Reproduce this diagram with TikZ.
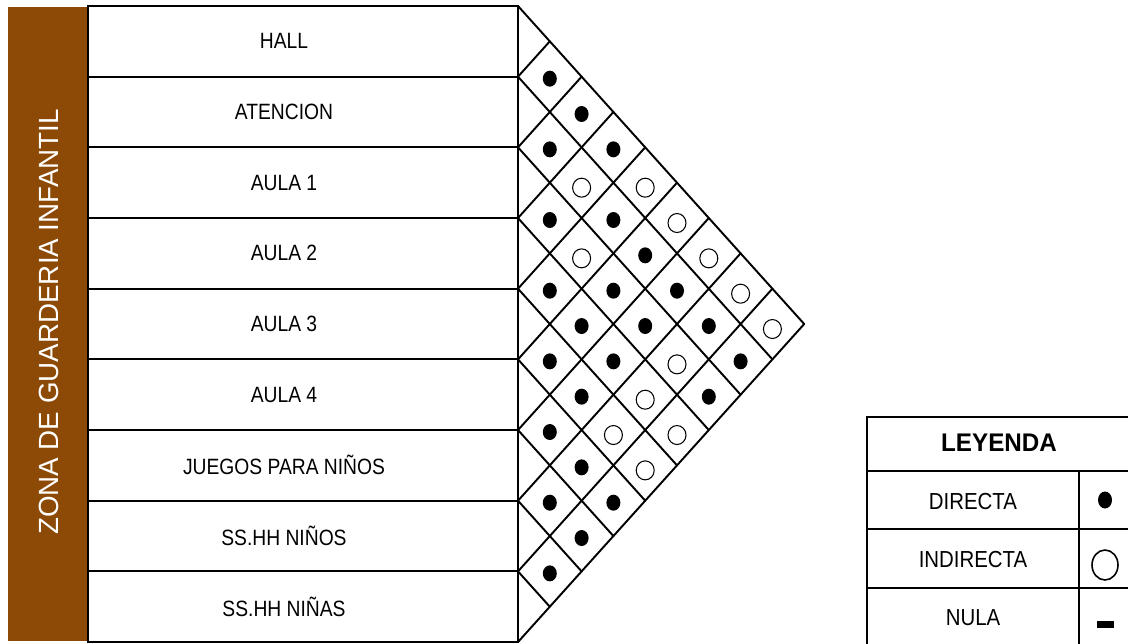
\documentclass[tikz,border=0pt]{standalone}
\usepackage{fontspec}
\setmainfont{Liberation Sans}
\newfontfamily\rowfont{Liberation Sans}[FakeStretch=0.87]
\newfontfamily\legfont{Liberation Sans}[FakeStretch=0.88]
\newfontfamily\legbold{Liberation Sans}[FakeStretch=0.95]
\definecolor{zonebrown}{RGB}{141,73,6}
\begin{document}
\begin{tikzpicture}[x=0.02cm,y=-0.02cm,
  gridline/.style={line width=1.1pt, line cap=round},
  boxline/.style={line width=1.1pt},
  rowlabel/.style={font=\rowfont\fontsize{12.6}{15}\selectfont, inner sep=0pt},
  leglabel/.style={font=\legfont\fontsize{13.2}{16}\selectfont, inner sep=0pt},
  legtitle/.style={font=\legbold\bfseries\fontsize{14.5}{17}\selectfont, inner sep=0pt},
  zonelabel/.style={font=\fontsize{15.8}{19}\selectfont, text=white, rotate=90, inner sep=0pt},
  fullmark/.style={fill=black},
  emptymark/.style={draw=black, line width=0.6pt}]
\useasboundingbox (0,0) rectangle (1128,643);
\begin{scope}
\clip (0,0) rectangle (1128,643);
% brown bar
\fill[zonebrown] (8,7) rectangle (88,641);
\node[zonelabel] (zona) at (49,322) {ZONA DE GUARDERIA INFANTIL};
% rows
\foreach \k/\t in {0/HALL,1/ATENCION,2/AULA 1,3/AULA 2,4/AULA 3,5/AULA 4,6/JUEGOS PARA NIÑOS,7/SS.HH NIÑOS,8/SS.HH NIÑAS}{
  \draw[boxline] (88,{6+\k*70.67}) rectangle (518,{6+(\k+1)*70.67});
  \node[rowlabel] (r\k) at (284,{6+(\k+0.5)*70.67}) {\t};
}
% triangle grid
\foreach \k in {0,...,8}{
  \draw[gridline] (518,{6+\k*70.67}) -- ({518+(9-\k)*31.8},{6+\k*70.67+(9-\k)*35.335});
}
\foreach \k in {1,...,9}{
  \draw[gridline] (518,{6+\k*70.67}) -- ({518+\k*31.8},{6+\k*70.67-\k*35.335});
}
% filled marks
\foreach \i/\j in {0/1,1/2,2/3,3/4,4/5,5/6,6/7,7/8,
                   0/2,3/5,4/6,5/7,6/8,
                   0/3,1/4,2/5,3/6,5/8,
                   1/5,2/6,1/6,1/7,2/8,1/8}{
  \fill[fullmark] ({518+(\j-\i)*31.8},{6+(\i+\j+1)*35.335+2}) ellipse [x radius=7, y radius=8];
}
% open marks
\foreach \i/\j in {1/3,2/4,4/7,0/4,3/7,4/8,0/5,2/7,3/8,0/6,0/7,0/8}{
  \draw[emptymark] ({518+(\j-\i)*31.8},{6+(\i+\j+1)*35.335+5}) ellipse [x radius=9, y radius=9.5];
}
% legend
\draw[boxline] (867,417) rectangle (1132,662);
\draw[boxline] (867,471) -- (1132,471);
\draw[boxline] (867,529) -- (1132,529);
\draw[boxline] (867,588) -- (1132,588);
\draw[boxline] (1079,471) -- (1079,662);
\node[legtitle] (leyenda) at (999,443) {LEYENDA};
\node[leglabel] (directa) at (973,502) {DIRECTA};
\node[leglabel] (indirecta) at (973,560) {INDIRECTA};
\node[leglabel] (nula) at (973,618) {NULA};
\fill[fullmark] (1105,500) ellipse [x radius=7, y radius=8.5];
\draw[black, line width=0.9pt] (1105,565) ellipse [x radius=13, y radius=15];
\fill[black] (1097,621) rectangle (1114,628);
\end{scope}
\end{tikzpicture}
\end{document}
